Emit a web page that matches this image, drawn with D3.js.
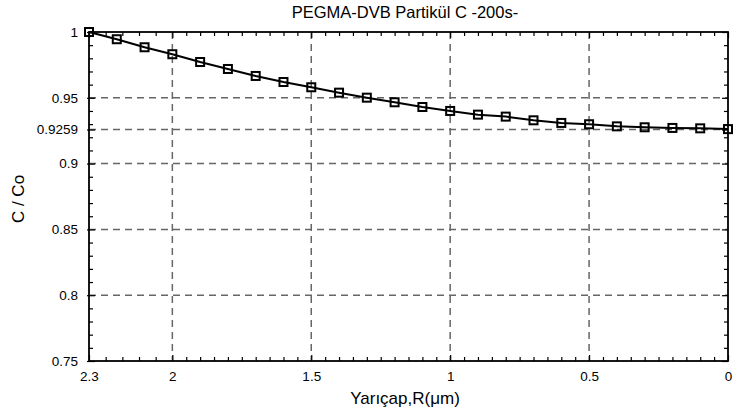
<!DOCTYPE html>
<html>
<head>
<meta charset="utf-8">
<script src="https://cdn.jsdelivr.net/npm/d3@7"></script>
<style>
  body { margin: 0; background: #fff; }
  text { font-family: "Liberation Sans", Arial, sans-serif; fill: #000; }
</style>
</head>
<body>
<div id="chart"></div>
<script>
// data
var radius = [2.3, 2.2, 2.1, 2.0, 1.9, 1.8, 1.7, 1.6, 1.5, 1.4, 1.3, 1.2,
              1.1, 1.0, 0.9, 0.8, 0.7, 0.6, 0.5, 0.4, 0.3, 0.2, 0.1, 0.0];
var conc = [1.0, 0.9945, 0.9884, 0.9831, 0.9772, 0.9719, 0.9666, 0.962, 0.958, 0.9539, 0.9501, 0.9466,
            0.943, 0.940, 0.9372, 0.9357, 0.9329, 0.9309, 0.9299, 0.9283, 0.9276, 0.9271, 0.9268, 0.9262];
var xTicks = [2.3, 2, 1.5, 1, 0.5, 0];
var yTicks = [1, 0.95, 0.9259, 0.9, 0.85, 0.8, 0.75];
var xGrid = [2, 1.5, 1, 0.5];
var yGrid = [0.95, 0.9259, 0.9, 0.85, 0.8];
var title = 'PEGMA-DVB Partikül C -200s-';

var W = 734, H = 419;
var margin = {top: 32, right: 6, bottom: 58, left: 89},
    width = W - margin.left - margin.right,
    height = H - margin.top - margin.bottom;

var svg = d3.select("#chart").append("svg")
    .attr("width", W)
    .attr("height", H);

var g = svg.append("g")
    .attr("transform", "translate(" + margin.left + "," + margin.top + ")");

var x = d3.scaleLinear().domain([2.3, 0]).range([0, width]);
var y = d3.scaleLinear().domain([0.75, 1]).range([height, 0]);

// minor ticks
var xMinor = [2.24, 2.18, 2.12, 2.06].concat(d3.range(1, 40).map(function(i) { return i * 0.05; })
    .filter(function(v) { return Math.abs(v * 2 - Math.round(v * 2)) > 1e-6; }));
var yMinor = d3.range(76, 100).map(function(i) { return i / 100; })
    .filter(function(v) { return Math.abs(v * 20 - Math.round(v * 20)) > 1e-6; });

// grid
g.selectAll(".xgrid").data(xGrid).enter().append("line")
    .attr("x1", function(d) { return x(d); }).attr("x2", function(d) { return x(d); })
    .attr("y1", 0).attr("y2", height)
    .attr("stroke", "#666").attr("stroke-width", 1.5).attr("stroke-dasharray", "7,5");
g.selectAll(".ygrid").data(yGrid).enter().append("line")
    .attr("y1", function(d) { return y(d); }).attr("y2", function(d) { return y(d); })
    .attr("x1", 0).attr("x2", width)
    .attr("stroke", "#666").attr("stroke-width", 1.5).attr("stroke-dasharray", "7,5");

// axes (ticks inward)
function styleAxis(sel) {
  sel.select(".domain").remove();
  sel.selectAll("line").attr("stroke", "#000").attr("stroke-width", 1.2);
  sel.selectAll("text").style("font-size", "13.5px").style("font-family", "Liberation Sans, Arial, sans-serif");
}
var axBottom = g.append("g").attr("transform", "translate(0," + height + ")")
    .call(d3.axisBottom(x).tickValues(xTicks).tickSize(-6).tickPadding(10).tickFormat(d3.format("")));
styleAxis(axBottom);
var axBottomMinor = g.append("g").attr("transform", "translate(0," + height + ")")
    .call(d3.axisBottom(x).tickValues(xMinor).tickSize(-4).tickFormat(""));
styleAxis(axBottomMinor);
var axTop = g.append("g")
    .call(d3.axisTop(x).tickValues(xTicks).tickSize(-6).tickFormat(""));
styleAxis(axTop);
var axTopMinor = g.append("g")
    .call(d3.axisTop(x).tickValues(xMinor).tickSize(-4).tickFormat(""));
styleAxis(axTopMinor);

var axLeft = g.append("g")
    .call(d3.axisLeft(y).tickValues(yTicks).tickSize(-6).tickPadding(11).tickFormat(d3.format("")));
styleAxis(axLeft);
axLeft.selectAll("line").attr("x1", -2);
var axLeftMinor = g.append("g")
    .call(d3.axisLeft(y).tickValues(yMinor).tickSize(-4).tickFormat(""));
styleAxis(axLeftMinor);
var axRight = g.append("g").attr("transform", "translate(" + width + ",0)")
    .call(d3.axisRight(y).tickValues(yTicks).tickSize(-6).tickFormat(""));
styleAxis(axRight);
var axRightMinor = g.append("g").attr("transform", "translate(" + width + ",0)")
    .call(d3.axisRight(y).tickValues(yMinor).tickSize(-4).tickFormat(""));
styleAxis(axRightMinor);

// frame
g.append("rect")
    .attr("width", width).attr("height", height)
    .attr("fill", "none").attr("stroke", "#000").attr("stroke-width", 1.8);

// line + markers
var pts = radius.map(function(r, i) { return {r: r, c: conc[i]}; });
g.append("path")
    .datum(pts)
    .attr("fill", "none")
    .attr("stroke", "#000")
    .attr("stroke-width", 2)
    .attr("d", d3.line().x(function(d) { return x(d.r); }).y(function(d) { return y(d.c); }));

g.selectAll(".mk").data(pts).enter().append("rect")
    .attr("x", function(d) { return x(d.r) - 4; })
    .attr("y", function(d) { return y(d.c) - 4; })
    .attr("width", 8).attr("height", 8)
    .attr("fill", "none").attr("stroke", "#000").attr("stroke-width", 2);

// titles
svg.append("text")
    .attr("x", 405).attr("y", 18)
    .attr("text-anchor", "middle")
    .style("font-size", "16.5px")
    .text(title);

svg.append("text")
    .attr("x", 405).attr("y", 404)
    .attr("text-anchor", "middle")
    .style("font-size", "17px")
    .text("Yarıçap,R(μm)");

svg.append("text")
    .attr("transform", "translate(24," + 199 + ") rotate(-90)")
    .attr("text-anchor", "middle")
    .style("font-size", "17px")
    .text("C / Co");
</script>
</body>
</html>
